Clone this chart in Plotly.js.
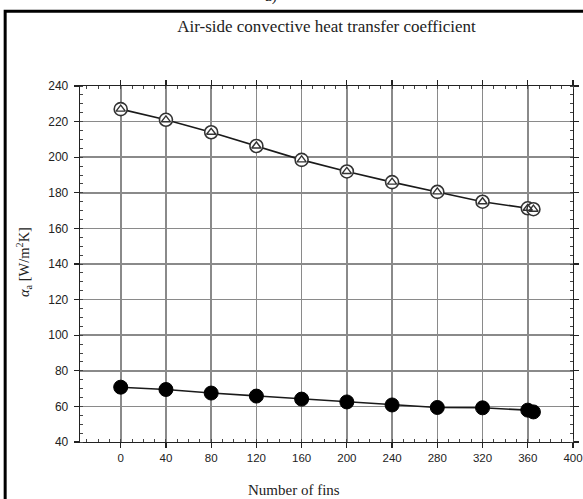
<!DOCTYPE html>
<html>
<head>
<meta charset="utf-8">
<script src="https://cdn.plot.ly/plotly-3.0.1.min.js"></script>
<style>html,body{margin:0;padding:0;background:#fff;}#chart{width:583px;height:499px;}</style>
</head>
<body>
<div id="chart"></div>
<script>
const fins = [0, 40, 80, 120, 160, 200, 240, 280, 320, 360, 365];
const alphaUpper = [227, 221, 214, 206.3, 198.5, 192, 186, 180.5, 175, 171.3, 170.8];
const alphaLower = [70.8, 69.5, 67.5, 65.8, 64.1, 62.5, 60.8, 59.4, 59.2, 57.9, 56.9];
const xTicks = [0, 40, 80, 120, 160, 200, 240, 280, 320, 360, 400];
const yTicks = [40, 60, 80, 100, 120, 140, 160, 180, 200, 220, 240];

const traces = [
  {x: fins, y: alphaUpper, mode: 'lines+markers', line: {color: '#1a1a1a', width: 1.6},
   marker: {symbol: 'circle', size: 13, color: '#ffffff', line: {color: '#333', width: 1.6}}, showlegend: false, hoverinfo: 'skip'},
  {x: fins, y: alphaUpper, mode: 'markers',
   marker: {symbol: 'triangle-up-open', size: 8, color: '#333', line: {color: '#333', width: 1.4}}, showlegend: false, hoverinfo: 'skip'},
  {x: fins, y: alphaLower, mode: 'lines+markers', line: {color: '#1a1a1a', width: 1.6},
   marker: {symbol: 'circle', size: 14, color: '#000000', line: {color: '#000', width: 1}}, showlegend: false, hoverinfo: 'skip'}
];

const axisCommon = {
  showline: true, linecolor: '#222', linewidth: 1.3, mirror: 'allticks',
  ticks: 'outside', ticklen: 5, tickcolor: '#222', tickwidth: 1.2,
  showgrid: true, gridcolor: '#8a8a8a', gridwidth: 1.6, zeroline: false
};

const layout = {
  width: 583, height: 499,
  margin: {l: 80, r: 10, t: 86, b: 57},
  paper_bgcolor: '#ffffff', plot_bgcolor: '#ffffff',
  title: {text: 'Air-side convective heat transfer coefficient', x: 0.5, xref: 'paper', y: 0.948, yanchor: 'middle',
          font: {family: 'Liberation Serif, Times New Roman, serif', size: 17, color: '#222'}},
  xaxis: Object.assign({}, axisCommon, {
    range: [-36, 400], tickvals: xTicks, ticktext: xTicks.map(String),
    tickfont: {family: 'Liberation Sans, Arial, sans-serif', size: 11.5, color: '#222'},
    minor: {dtick: 10, tick0: 0, ticks: 'inside', ticklen: 3, tickcolor: '#444', tickwidth: 1, showgrid: false}
  }),
  yaxis: Object.assign({}, axisCommon, {
    range: [40, 240], tickvals: yTicks, ticktext: yTicks.map(String),
    tickfont: {family: 'Liberation Sans, Arial, sans-serif', size: 12, color: '#222'},
    ticklabelstandoff: 3,
    minor: {dtick: 5, tick0: 40, ticks: 'inside', ticklen: 3, tickcolor: '#444', tickwidth: 1, showgrid: false}
  }),
  annotations: [
    {text: 'Number of fins', xref: 'paper', yref: 'paper', x: 0.5, y: -0.1, xshift: -33, yshift: -12,
     xanchor: 'center', yanchor: 'middle', showarrow: false,
     font: {family: 'Liberation Serif, Times New Roman, serif', size: 15, color: '#222'}},
    {text: '<i>α</i><sub>a</sub> [W/m<sup>2</sup>K]', xref: 'paper', yref: 'paper', x: 0, y: 0.5, xshift: -56, yshift: 2,
     xanchor: 'center', yanchor: 'middle', textangle: -90, showarrow: false,
     font: {family: 'Liberation Serif, Times New Roman, serif', size: 14.5, color: '#222'}},
    {text: 'a)', xref: 'paper', yref: 'paper', x: 0.5, y: 1, xshift: -56, yshift: 90,
     xanchor: 'center', yanchor: 'middle', showarrow: false,
     font: {family: 'Liberation Serif, Times New Roman, serif', size: 15, color: '#222'}}
  ],
  shapes: [
    {type: 'rect', xref: 'paper', yref: 'paper', x0: -0.1518, x1: 1.1, y0: -0.3, y1: 1.2098,
     line: {color: '#000', width: 3}, fillcolor: 'rgba(0,0,0,0)', layer: 'above'}
  ]
};

Plotly.newPlot('chart', traces, layout, {displayModeBar: false, staticPlot: true});
</script>
</body>
</html>
